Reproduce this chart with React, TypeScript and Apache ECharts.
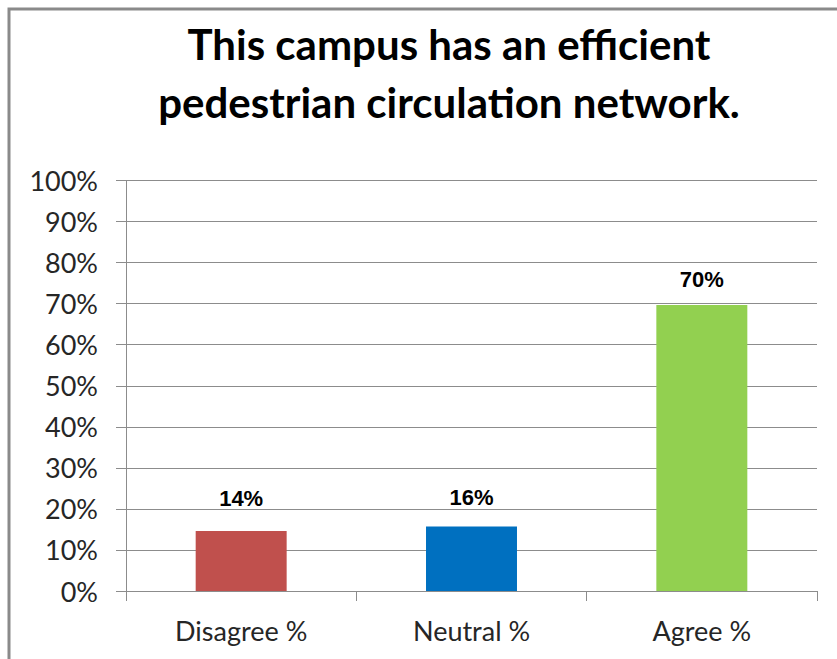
import React, { useEffect, useRef } from "react";
import * as echarts from "echarts";

const categories = ["Disagree %", "Neutral %", "Agree %"];
const values = [14.6, 15.7, 69.7];
const valueLabels = ["14%", "16%", "70%"];
const barColors = ["#C0504D", "#0070C0", "#92D050"];
const labelDistances = [22, 18, 14];
const titleText = "This campus has an efficient\npedestrian circulation network.";

export default function App() {
  const ref = useRef<HTMLDivElement>(null);
  useEffect(() => {
    document.body.style.margin = "0";
    const chart = echarts.init(ref.current!, null, { renderer: "svg" });
    chart.setOption({
      animation: false,
      backgroundColor: "#ffffff",
      title: {
        text: titleText,
        left: 444,
        top: 10,
        textAlign: "center",
        textStyle: {
          fontFamily: "Lato",
          fontWeight: "bold",
          fontSize: 42,
          lineHeight: 58,
          color: "#000000",
        },
      },
      graphic: [
        {
          type: "rect",
          shape: { x: 9, y: 9, width: 900, height: 700 },
          style: { fill: "none", stroke: "#8a8a8a", lineWidth: 3 },
          silent: true,
        },
      ],
      grid: { left: 126, right: 20, top: 180.5, bottom: 68 },
      xAxis: {
        type: "category",
        data: categories,
        axisLine: { lineStyle: { color: "#8c8c8c", width: 1 } },
        axisTick: { show: true, length: 10, lineStyle: { color: "#8c8c8c" } },
        axisLabel: {
          margin: 26,
          fontFamily: "Lato",
          fontSize: 27,
          color: "#262626",
        },
      },
      yAxis: {
        type: "value",
        min: 0,
        max: 100,
        interval: 10,
        axisLine: { show: true, lineStyle: { color: "#8c8c8c", width: 1 } },
        axisTick: { show: true, length: 10, lineStyle: { color: "#8c8c8c" } },
        splitLine: { lineStyle: { color: "#8c8c8c", width: 1 } },
        axisLabel: {
          margin: 28,
          formatter: "{value}%",
          fontFamily: "Lato",
          fontSize: 27,
          color: "#262626",
        },
      },
      series: [
        {
          type: "bar",
          barWidth: "39.5%",
          data: values.map((v, i) => ({
            value: v,
            itemStyle: { color: barColors[i] },
            label: {
              show: true,
              position: "top",
              distance: labelDistances[i],
              formatter: valueLabels[i],
              fontFamily: "Liberation Sans",
              fontWeight: "bold",
              fontSize: 22,
              color: "#000000",
            },
          })),
        },
      ],
    });
    return () => chart.dispose();
  }, []);
  return <div ref={ref} style={{ width: 837, height: 659 }} />;
}
